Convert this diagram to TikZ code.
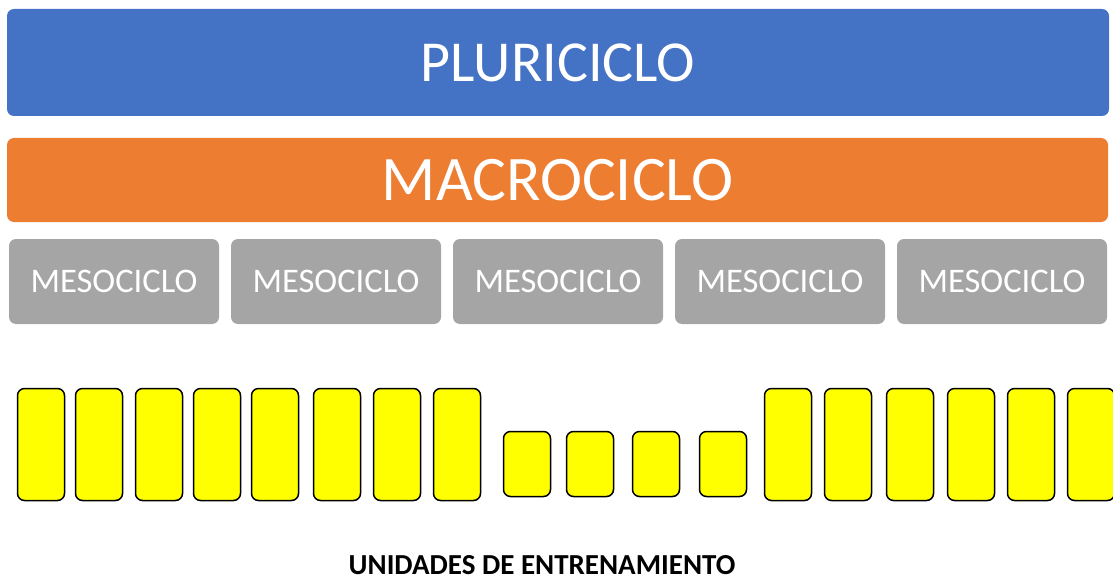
\documentclass[tikz,border=0pt]{standalone}
\usepackage{fontspec}
\setmainfont{Carlito}
\definecolor{pluriblue}{HTML}{4472C4}
\definecolor{macroorange}{HTML}{ED7D31}
\definecolor{mesogray}{HTML}{A5A5A5}
\definecolor{unityellow}{HTML}{FFFF00}
\begin{document}
\begin{tikzpicture}[x=1pt, y=-1pt,
    cyclebox/.style={rounded corners=7pt, text=white, inner sep=0pt},
    mesobox/.style={cyclebox, fill=mesogray, minimum width=210pt, minimum height=85pt,
        font=\fontsize{34.5}{38}\selectfont},
    unitbar/.style={draw=black, line width=1.5pt, fill=unityellow, rounded corners=7pt,
        minimum width=47pt, inner sep=0pt}]
        \clip (0,0) rectangle (1113,580);
        \node[cyclebox, fill=pluriblue, minimum width=1102pt, minimum height=107pt,
            font=\fontsize{58}{62}\selectfont] (pluri) at (558,62.5) {PLURICICLO};
        \node[cyclebox, fill=macroorange, minimum width=1101pt, minimum height=84pt,
            font=\fontsize{63.5}{68}\selectfont] (macro) at (557.5,180) {MACROCICLO};
        \foreach \i in {0,...,4}
            \node[mesobox] (meso\i) at (114+222*\i, 281.5) {MESOCICLO};
        % training units: tall, short, tall
        \foreach \x [count=\i] in {17,75,135,193,251,313,373,433}
            \node[unitbar, minimum height=112pt] (unitA\i) at (\x+24, 444.5) {};
        \foreach \x [count=\i] in {503,566,632,699}
            \node[unitbar, minimum height=65pt] (unitB\i) at (\x+24, 464) {};
        \foreach \x [count=\i] in {764,824,886,947,1007,1067}
            \node[unitbar, minimum height=112pt] (unitC\i) at (\x+24, 444.5) {};
        \node[font=\fontsize{29}{32}\selectfont\bfseries, inner sep=0pt] (units) at (542,565) {UNIDADES DE ENTRENAMIENTO};
\end{tikzpicture}
\end{document}
